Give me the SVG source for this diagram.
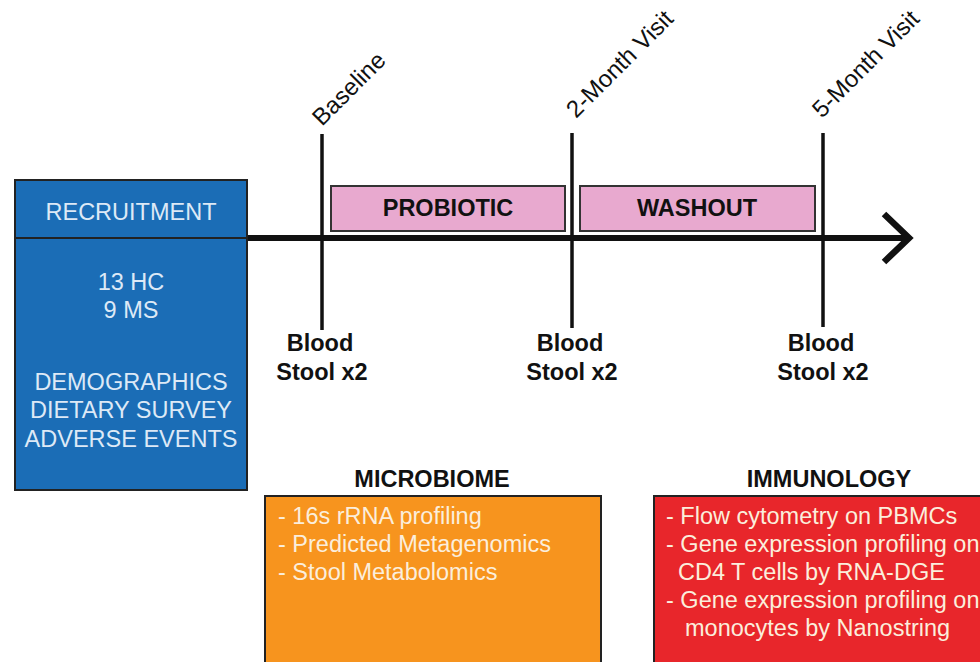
<svg xmlns="http://www.w3.org/2000/svg" width="980" height="662" viewBox="0 0 980 662">
<style>
.lt{font-family:"Liberation Sans",Arial,sans-serif;font-size:23.5px;fill:#dde9f6}
.bd{font-family:"Liberation Sans",Arial,sans-serif;font-size:23.5px;font-weight:bold;fill:#111}
.rot{font-family:"Liberation Sans",Arial,sans-serif;font-size:24px;fill:#111}
.wt{font-family:"Liberation Sans",Arial,sans-serif;font-size:23.5px;fill:#fbeedc}
.ln{stroke:#111;stroke-width:3.5;fill:none}
.ph{fill:#e8a9cf;stroke:#333;stroke-width:2}
</style>
<rect width="980" height="662" fill="#fff"/>
<g id="connectors">
<line class="ln" x1="247" y1="238" x2="908" y2="238" style="stroke-width:6"/>
<polyline points="884,214 909,238 884,262" fill="none" stroke="#111" stroke-width="6.5"/>
<line class="ln" x1="322" y1="134" x2="322" y2="330"/>
<line class="ln" x1="572" y1="133" x2="572" y2="328"/>
<line class="ln" x1="823" y1="133" x2="823" y2="327"/>
</g>
<g id="recruitment">
<rect x="15" y="180" width="232" height="310" fill="#1b6db6" stroke="#222" stroke-width="2"/>
<line x1="15" y1="238" x2="247" y2="238" stroke="#222" stroke-width="2"/>
<text class="lt" x="131" y="220" text-anchor="middle">RECRUITMENT</text>
<text class="lt" x="131" y="290" text-anchor="middle">13 HC</text>
<text class="lt" x="131" y="318" text-anchor="middle">9 MS</text>
<text class="lt" x="131" y="390" text-anchor="middle">DEMOGRAPHICS</text>
<text class="lt" x="131" y="418" text-anchor="middle">DIETARY SURVEY</text>
<text class="lt" x="131" y="447" text-anchor="middle">ADVERSE EVENTS</text>
</g>
<g id="probiotic">
<rect class="ph" x="331" y="186" width="234" height="45"/>
<text class="bd" x="448" y="216" text-anchor="middle">PROBIOTIC</text>
</g>
<g id="washout">
<rect class="ph" x="580" y="186" width="235" height="45"/>
<text class="bd" x="697" y="216" text-anchor="middle">WASHOUT</text>
</g>
<g id="baseline">
<text class="rot" transform="translate(322,127) rotate(-45)">Baseline</text>
<text class="bd" x="320" y="351" text-anchor="middle">Blood</text>
<text class="bd" x="322" y="380" text-anchor="middle">Stool x2</text>
</g>
<g id="month2">
<text class="rot" transform="translate(576,119) rotate(-45)">2-Month Visit</text>
<text class="bd" x="570" y="351" text-anchor="middle">Blood</text>
<text class="bd" x="572" y="380" text-anchor="middle">Stool x2</text>
</g>
<g id="month5">
<text class="rot" transform="translate(822,119) rotate(-45)">5-Month Visit</text>
<text class="bd" x="821" y="351" text-anchor="middle">Blood</text>
<text class="bd" x="823" y="380" text-anchor="middle">Stool x2</text>
</g>
<g id="microbiome">
<text class="bd" x="432" y="487" text-anchor="middle">MICROBIOME</text>
<rect x="265" y="496" width="336" height="175" fill="#f7941e" stroke="#222" stroke-width="2"/>
<text class="wt" x="278" y="524">- 16s rRNA profiling</text>
<text class="wt" x="278" y="552">- Predicted Metagenomics</text>
<text class="wt" x="278" y="580">- Stool Metabolomics</text>
</g>
<g id="immunology">
<text class="bd" x="829" y="487" text-anchor="middle">IMMUNOLOGY</text>
<rect x="654" y="496" width="340" height="175" fill="#e8262b" stroke="#222" stroke-width="2"/>
<text class="wt" x="666" y="524">- Flow cytometry on PBMCs</text>
<text class="wt" x="666" y="552">- Gene expression profiling on</text>
<text class="wt" x="678" y="580">CD4 T cells by RNA-DGE</text>
<text class="wt" x="666" y="608">- Gene expression profiling on</text>
<text class="wt" x="685" y="636">monocytes by Nanostring</text>
</g>
</svg>
